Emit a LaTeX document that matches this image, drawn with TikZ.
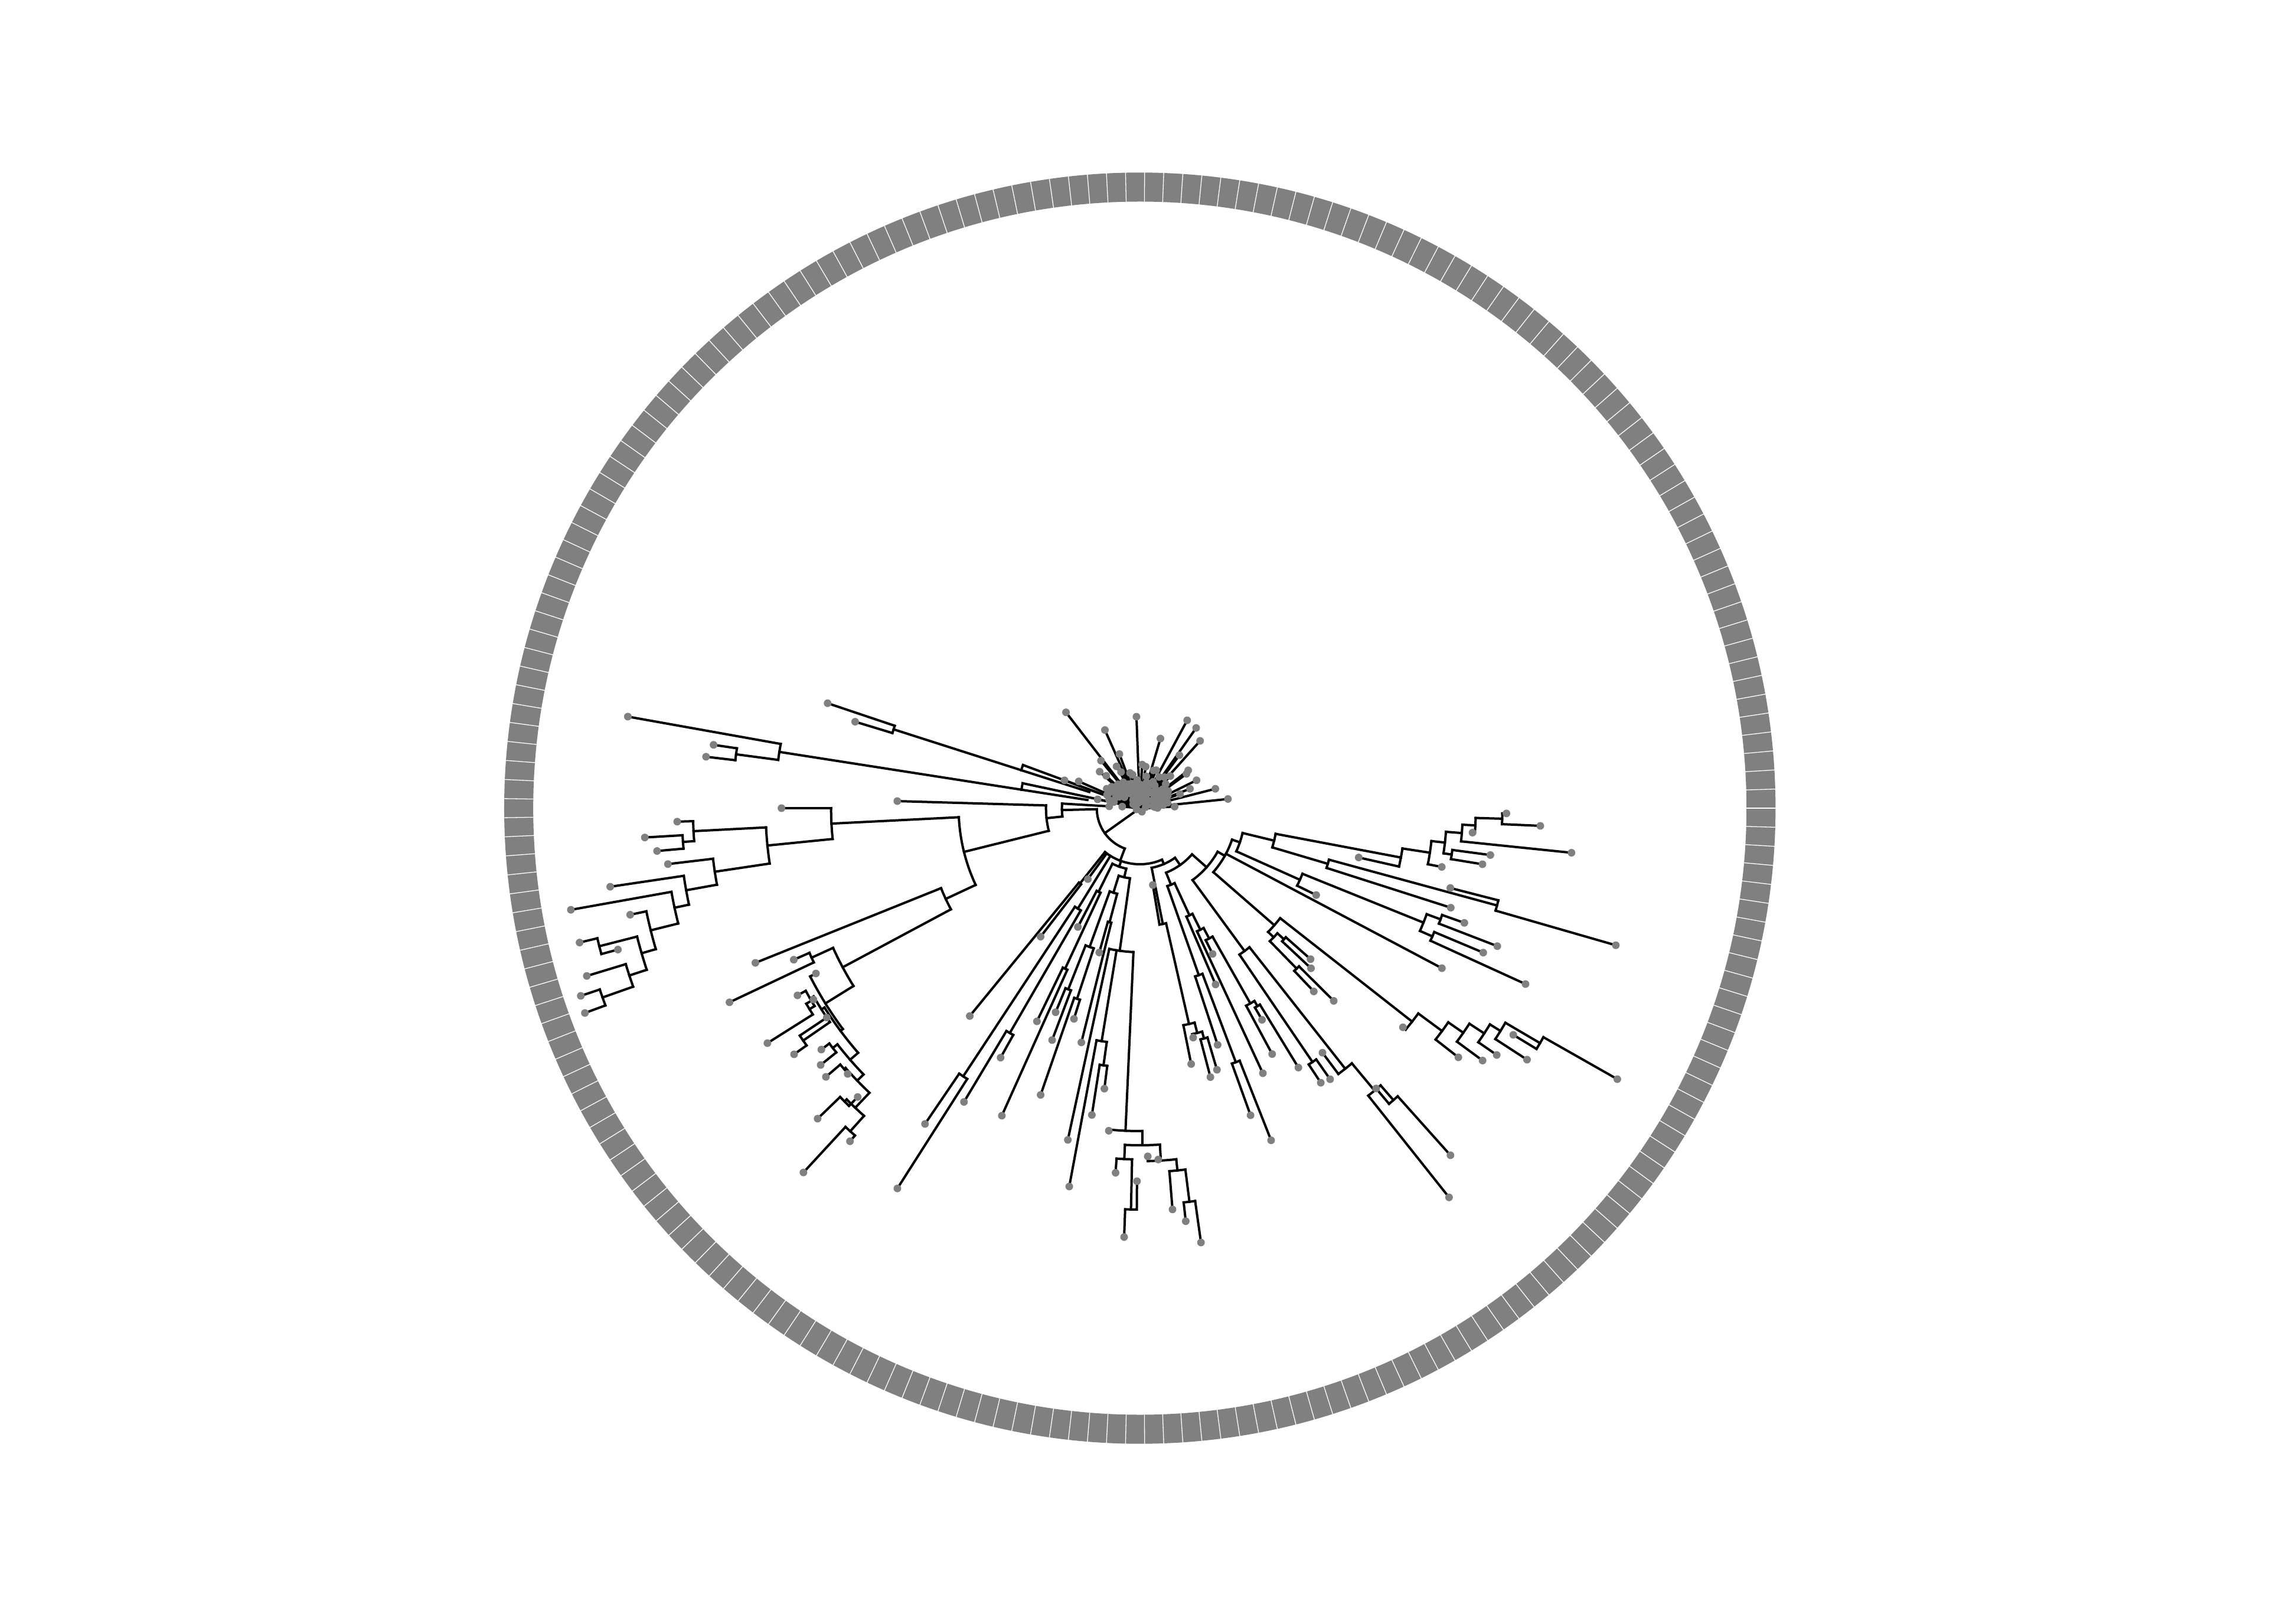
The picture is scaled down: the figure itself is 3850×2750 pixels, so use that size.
\documentclass[tikz,border=0pt]{standalone}
\pgfdeclarelayer{fg}
\pgfsetlayers{main,fg}
\definecolor{tipc}{RGB}{128,128,128}
\definecolor{ringc}{RGB}{128,128,128}
\tikzset{br/.style={line width=4pt, line cap=rect, black}}
\newcommand\TreeTip[3]{\draw[br] (#1:#2pt) -- (#1:#3pt);\begin{pgfonlayer}{fg}\fill[tipc] (#1:#3pt) circle[radius=6.5pt];\end{pgfonlayer}}
\newcommand\TreeNode[5]{\draw[br] (#3:#1pt) -- (#3:#2pt);\draw[br] (#4:#2pt) arc[start angle=#4,end angle=#5,radius=#2pt];}
\begin{document}
\begin{tikzpicture}
\useasboundingbox (-1930.7pt,-1381pt) rectangle (1919.3pt,1369pt);
% ring
\fill[ringc, even odd rule] (0,0) circle[radius=1076.7pt] circle[radius=1027.5pt];
\foreach \k in {0,...,208} \draw[white, line width=1.3pt] ({\k*1.722488}:1025pt) -- ({\k*1.722488}:1079pt);
% burst
\foreach \i/\r in {0/30,1/59,2/25,3/150,4/40,5/22,6/48,7/35,8/132,9/45,10/28,11/72,12/91,13/38,14/52,15/107,16/30,17/44,18/56,19/26,20/40,21/98,22/104,23/50,24/33,25/60,26/42,27/75,28/153,29/36,30/67,31/112,32/166,33/46,34/62,35/30,36/169,37/50,38/28,39/70,40/40,41/68,42/24,43/123,44/45,45/20,46/55,47/33,48/71,49/28,50/18,51/74,52/40,53/30,54/155,55/25,56/48,57/20,58/38,59/28,60/58,61/22,62/62,63/35,64/44,65/98,66/30,67/145,68/45,69/69,70/81,71/36,72/52,73/30,74/46,75/205,76/104,77/40,78/55,79/34,80/79,81/92,82/50,83/38,84/60,85/32,86/46,87/55,88/65,89/40,90/58,91/45,92/113,93/60,94/136}
 {\pgfmathsetmacro\a{0.87+1.69*\i}\TreeTip{\a}{0}{\r}}
\TreeTip{164.8}{0}{54}
\TreeTip{166.5}{0}{45}
\TreeTip{168.2}{0}{73}
\TreeTip{174.93}{0}{30}
\begin{pgfonlayer}{fg}
\foreach \a/\r in {10/10,40/14,75/12,110/9,150/13,200/6,300/7,60/20,130/18}
 \fill[tipc] (\a:\r pt) circle[radius=6.5pt];
\end{pgfonlayer}
% clade A
\draw[br] (168.0:0pt) -- (168.0:203pt);
\draw[br] (168.0:203pt) arc[start angle=168.0,end angle=171.13,radius=203pt];
\draw[br] (171.13:90pt) -- (171.13:203pt);
\TreeNode{203}{618}{171.13}{169.86}{172.4}
\TreeTip{169.86}{618}{881}
\TreeNode{618}{690}{172.4}{171.55}{173.24}
\TreeTip{171.55}{690}{730}
\TreeTip{173.24}{690}{740}
% clade B
\draw[br] (159.73:0pt) -- (159.73:211pt);
\draw[br] (159.73:211pt) arc[start angle=159.73,end angle=162.25,radius=211pt];
\draw[br] (162.25:90pt) -- (162.25:211pt);
\TreeNode{211}{438}{162.25}{161.42}{163.11}
\TreeTip{161.42}{438}{558}
\TreeTip{163.11}{438}{504}
% U, N_D, C
\TreeNode{0}{73}{215.43}{181.39}{249.47}
\TreeNode{73}{132}{181.39}{176.62}{186.15}
\TreeTip{176.62}{132}{52}
\TreeNode{132}{159}{186.15}{178.33}{193.97}
\TreeTip{178.33}{159}{411}
\TreeNode{159}{307}{193.97}{182.87}{205.06}
\TreeNode{307}{523}{182.87}{180.0}{185.73}
\TreeTip{180.0}{523}{607}
\TreeNode{523}{634}{185.73}{182.95}{188.51}
\TreeNode{634}{757}{182.95}{181.67}{184.23}
\TreeTip{181.67}{757}{784}
\TreeNode{757}{776}{184.23}{183.39}{185.07}
\TreeTip{183.39}{776}{840}
\TreeTip{185.07}{776}{821}
\TreeNode{634}{728}{188.51}{186.76}{190.26}
\TreeTip{186.76}{728}{805}
\TreeNode{728}{781}{190.26}{188.44}{192.08}
\TreeTip{188.44}{781}{907}
\TreeNode{781}{806}{192.08}{190.13}{194.03}
\TreeTip{190.13}{806}{979}
\TreeNode{806}{854}{194.03}{191.81}{196.24}
\TreeTip{191.81}{854}{882}
\TreeNode{854}{879}{196.24}{194.33}{198.15}
\TreeNode{879}{945}{194.33}{193.49}{195.16}
\TreeTip{193.49}{945}{976}
\TreeTip{195.16}{945}{916}
\TreeNode{879}{910}{198.15}{196.88}{199.41}
\TreeTip{196.88}{910}{979}
\TreeNode{910}{965}{199.41}{198.56}{200.26}
\TreeTip{198.56}{965}{999}
\TreeTip{200.26}{965}{1002}
% M
\TreeNode{307}{363}{205.06}{201.92}{208.17}
\TreeTip{201.92}{363}{702}
\TreeNode{363}{571}{208.17}{204.49}{211.84}
\TreeNode{571}{611}{204.49}{203.65}{205.32}
\TreeTip{203.65}{611}{640}
\TreeTip{205.32}{611}{769}
% E
\TreeNode{571}{627}{211.84}{207.04}{216.64}
\TreeTip{207.04}{627}{616}
\TreeNode{627}{632}{216.64}{212.3}{220.97}
\TreeNode{632}{638}{212.3}{209.99}{214.62}
\TreeNode{638}{645}{209.99}{208.67}{211.32}
\TreeTip{208.67}{645}{661}
\TreeNode{645}{655}{211.32}{210.38}{212.25}
\TreeTip{210.38}{655}{641}
\TreeTip{212.25}{655}{746}
\TreeNode{638}{693}{214.62}{213.78}{215.45}
\TreeTip{213.78}{693}{638}
\TreeTip{215.45}{693}{719}
\TreeNode{632}{650}{220.97}{217.99}{223.95}
\TreeNode{650}{660}{217.99}{217.16}{218.82}
\TreeTip{217.16}{660}{677}
\TreeTip{218.82}{660}{694}
\TreeNode{650}{665}{223.95}{221.43}{226.47}
\TreeNode{665}{668}{221.43}{220.56}{222.29}
\TreeTip{220.56}{668}{700}
\TreeTip{222.29}{668}{669}
\TreeNode{665}{700}{226.47}{224.81}{228.13}
\TreeNode{700}{705}{224.81}{223.94}{225.67}
\TreeTip{223.94}{705}{758}
\TreeTip{225.67}{705}{684}
\TreeNode{700}{735}{228.13}{227.28}{228.97}
\TreeTip{227.28}{735}{840}
\TreeTip{228.97}{735}{748}
% V
\TreeNode{73}{95}{249.47}{231.52}{293.26}
\TreeNode{95}{163}{231.52}{230.71}{232.32}
\TreeTip{230.71}{163}{455}
\TreeTip{232.32}{163}{275}
\TreeTip{233.77}{95}{149}
\TreeNode{95}{200}{238.3}{236.63}{239.96}
\TreeNode{200}{544}{236.63}{235.77}{237.48}
\TreeTip{235.77}{544}{647}
\TreeTip{237.48}{544}{764}
\TreeNode{200}{440}{239.96}{239.09}{240.83}
\TreeTip{239.09}{440}{580}
\TreeTip{240.83}{440}{484}
% Y
\TreeNode{95}{105}{250.52}{243.74}{257.29}
\TreeNode{105}{158}{243.74}{242.44}{245.03}
\TreeTip{242.44}{158}{227}
\TreeNode{158}{300}{245.03}{244.23}{245.83}
\TreeTip{244.23}{300}{401}
\TreeTip{245.83}{300}{571}
\TreeNode{105}{120}{257.29}{252.62}{261.96}
\TreeNode{120}{150}{252.62}{250.1}{255.14}
\TreeNode{150}{250}{250.1}{248.43}{251.77}
\TreeNode{250}{330}{248.43}{247.57}{249.28}
\TreeTip{247.57}{330}{374}
\TreeTip{249.28}{330}{420}
\TreeNode{250}{340}{251.77}{250.91}{252.63}
\TreeTip{250.91}{340}{514}
\TreeTip{252.63}{340}{374}
\TreeNode{150}{200}{255.14}{254.29}{255.98}
\TreeTip{254.29}{200}{254}
\TreeTip{255.98}{200}{409}
\TreeNode{120}{244}{261.96}{257.75}{267.45}
\TreeTip{257.75}{244}{575}
\TreeNode{244}{400}{260.69}{259.43}{261.95}
\TreeTip{259.43}{400}{652}
\TreeNode{400}{440}{261.95}{261.11}{262.79}
\TreeTip{261.11}{440}{526}
\TreeTip{262.79}{440}{479}
\TreeNode{244}{547}{267.45}{264.5}{270.43}
\TreeTip{264.5}{547}{549}
\TreeNode{547}{571}{270.43}{267.46}{273.41}
\TreeNode{571}{595}{267.46}{266.19}{268.73}
\TreeTip{266.19}{595}{619}
\TreeNode{595}{680}{268.73}{267.9}{269.56}
\TreeTip{267.9}{680}{727}
\TreeTip{269.56}{680}{632}
\TreeNode{571}{598}{273.41}{271.3}{275.92}
\TreeTip{271.3}{598}{590}
\TreeTip{273.0}{598}{596}
\TreeNode{598}{617}{275.92}{274.65}{277.18}
\TreeTip{274.65}{617}{682}
\TreeNode{617}{672}{277.18}{276.34}{278.01}
\TreeTip{276.34}{672}{704}
\TreeTip{278.01}{672}{743}
% X
\TreeNode{95}{103}{293.26}{281.2}{305.31}
\TreeNode{103}{200}{281.2}{279.57}{282.83}
\TreeTip{279.57}{200}{132}
\TreeNode{200}{375}{282.83}{281.34}{284.32}
\TreeTip{281.34}{375}{442}
\TreeNode{375}{393}{284.32}{283.08}{285.56}
\TreeTip{283.08}{393}{399}
\TreeNode{393}{405}{285.56}{284.7}{286.42}
\TreeTip{284.7}{405}{471}
\TreeTip{286.42}{405}{462}
\TreeNode{103}{118}{305.31}{292.14}{318.48}
% BR
\TreeNode{118}{140}{292.14}{289.44}{294.84}
\TreeNode{140}{300}{289.44}{288.19}{290.69}
\TreeTip{288.19}{300}{422}
\TreeNode{300}{460}{290.69}{289.82}{291.56}
\TreeTip{289.82}{460}{553}
\TreeTip{291.56}{460}{605}
\TreeNode{140}{200}{294.84}{293.24}{296.45}
\TreeTip{293.24}{200}{325}
\TreeNode{200}{230}{296.45}{294.89}{298.0}
\TreeTip{294.89}{230}{495}
\TreeNode{230}{250}{298.0}{296.52}{299.5}
\TreeTip{296.52}{250}{276}
\TreeNode{250}{380}{299.5}{298.28}{300.71}
\TreeTip{298.28}{380}{473}
\TreeNode{380}{390}{300.71}{299.99}{301.43}
\TreeTip{299.99}{390}{414}
\TreeTip{301.43}{390}{515}
% RR
\TreeNode{118}{151}{318.48}{306.23}{330.73}
\TreeNode{151}{300}{306.23}{304.22}{308.24}
\TreeNode{300}{520}{304.22}{303.38}{305.06}
\TreeTip{303.38}{520}{557}
\TreeTip{305.06}{520}{561}
\TreeNode{300}{562}{308.24}{306.75}{309.72}
\TreeTip{306.75}{562}{517}
\TreeNode{562}{622}{309.72}{308.46}{310.97}
\TreeTip{308.46}{622}{842}
\TreeNode{622}{655}{310.97}{310.12}{311.82}
\TreeTip{310.12}{655}{621}
\TreeTip{311.82}{655}{789}
% RS
\TreeNode{151}{165}{330.73}{318.96}{341.15}
\TreeTip{332.08}{165}{579}
\TreeNode{165}{302}{318.96}{316.02}{321.9}
\TreeNode{302}{315}{316.02}{314.34}{317.7}
\TreeNode{315}{380}{314.34}{313.5}{315.17}
\TreeTip{313.5}{380}{428}
\TreeTip{315.17}{380}{463}
\TreeNode{315}{330}{317.7}{316.9}{318.5}
\TreeTip{316.9}{330}{397}
\TreeTip{318.5}{330}{386}
\TreeNode{302}{586}{321.9}{320.2}{323.59}
\TreeTip{320.2}{586}{580}
\TreeNode{586}{636}{323.59}{321.96}{325.22}
\TreeTip{321.96}{636}{685}
\TreeNode{636}{667}{325.22}{323.63}{326.81}
\TreeTip{323.63}{667}{721}
\TreeNode{667}{697}{326.81}{325.33}{328.29}
\TreeTip{325.33}{697}{735}
\TreeNode{697}{718}{328.29}{326.99}{329.58}
\TreeTip{326.99}{718}{782}
\TreeNode{718}{786}{329.58}{328.74}{330.42}
\TreeTip{328.74}{786}{740}
\TreeTip{330.42}{786}{930}
% RU
\TreeNode{165}{179}{341.15}{335.89}{346.4}
\TreeNode{179}{297}{335.89}{333.76}{338.02}
\TreeTip{333.76}{297}{333}
\TreeNode{297}{518}{338.02}{336.33}{339.71}
\TreeNode{518}{541}{336.33}{335.48}{337.18}
\TreeTip{335.48}{541}{718}
\TreeTip{337.18}{541}{631}
\TreeNode{518}{543}{339.71}{338.89}{340.53}
\TreeTip{338.89}{543}{649}
\TreeTip{340.53}{543}{583}
\TreeNode{179}{234}{346.4}{343.5}{349.29}
\TreeNode{234}{332}{343.5}{342.25}{344.76}
\TreeTip{342.25}{332}{553}
\TreeNode{332}{627}{344.76}{343.93}{345.58}
\TreeTip{343.93}{627}{839}
\TreeTip{345.58}{627}{543}
\TreeNode{234}{450}{349.29}{347.3}{351.27}
\TreeTip{347.3}{450}{380}
\TreeNode{450}{497}{351.27}{348.98}{353.56}
\TreeTip{348.98}{497}{521}
\TreeNode{497}{520}{353.56}{351.54}{355.58}
\TreeNode{520}{534}{351.54}{350.7}{352.38}
\TreeTip{350.7}{534}{588}
\TreeTip{352.38}{534}{599}
\TreeNode{520}{547}{355.58}{354.1}{357.06}
\TreeTip{354.1}{547}{735}
\TreeNode{547}{569}{357.06}{355.79}{358.33}
\TreeTip{355.79}{569}{565}
\TreeNode{569}{614}{358.33}{357.47}{359.18}
\TreeTip{357.47}{614}{679}
\TreeTip{359.18}{614}{621}
\end{tikzpicture}
\end{document}
